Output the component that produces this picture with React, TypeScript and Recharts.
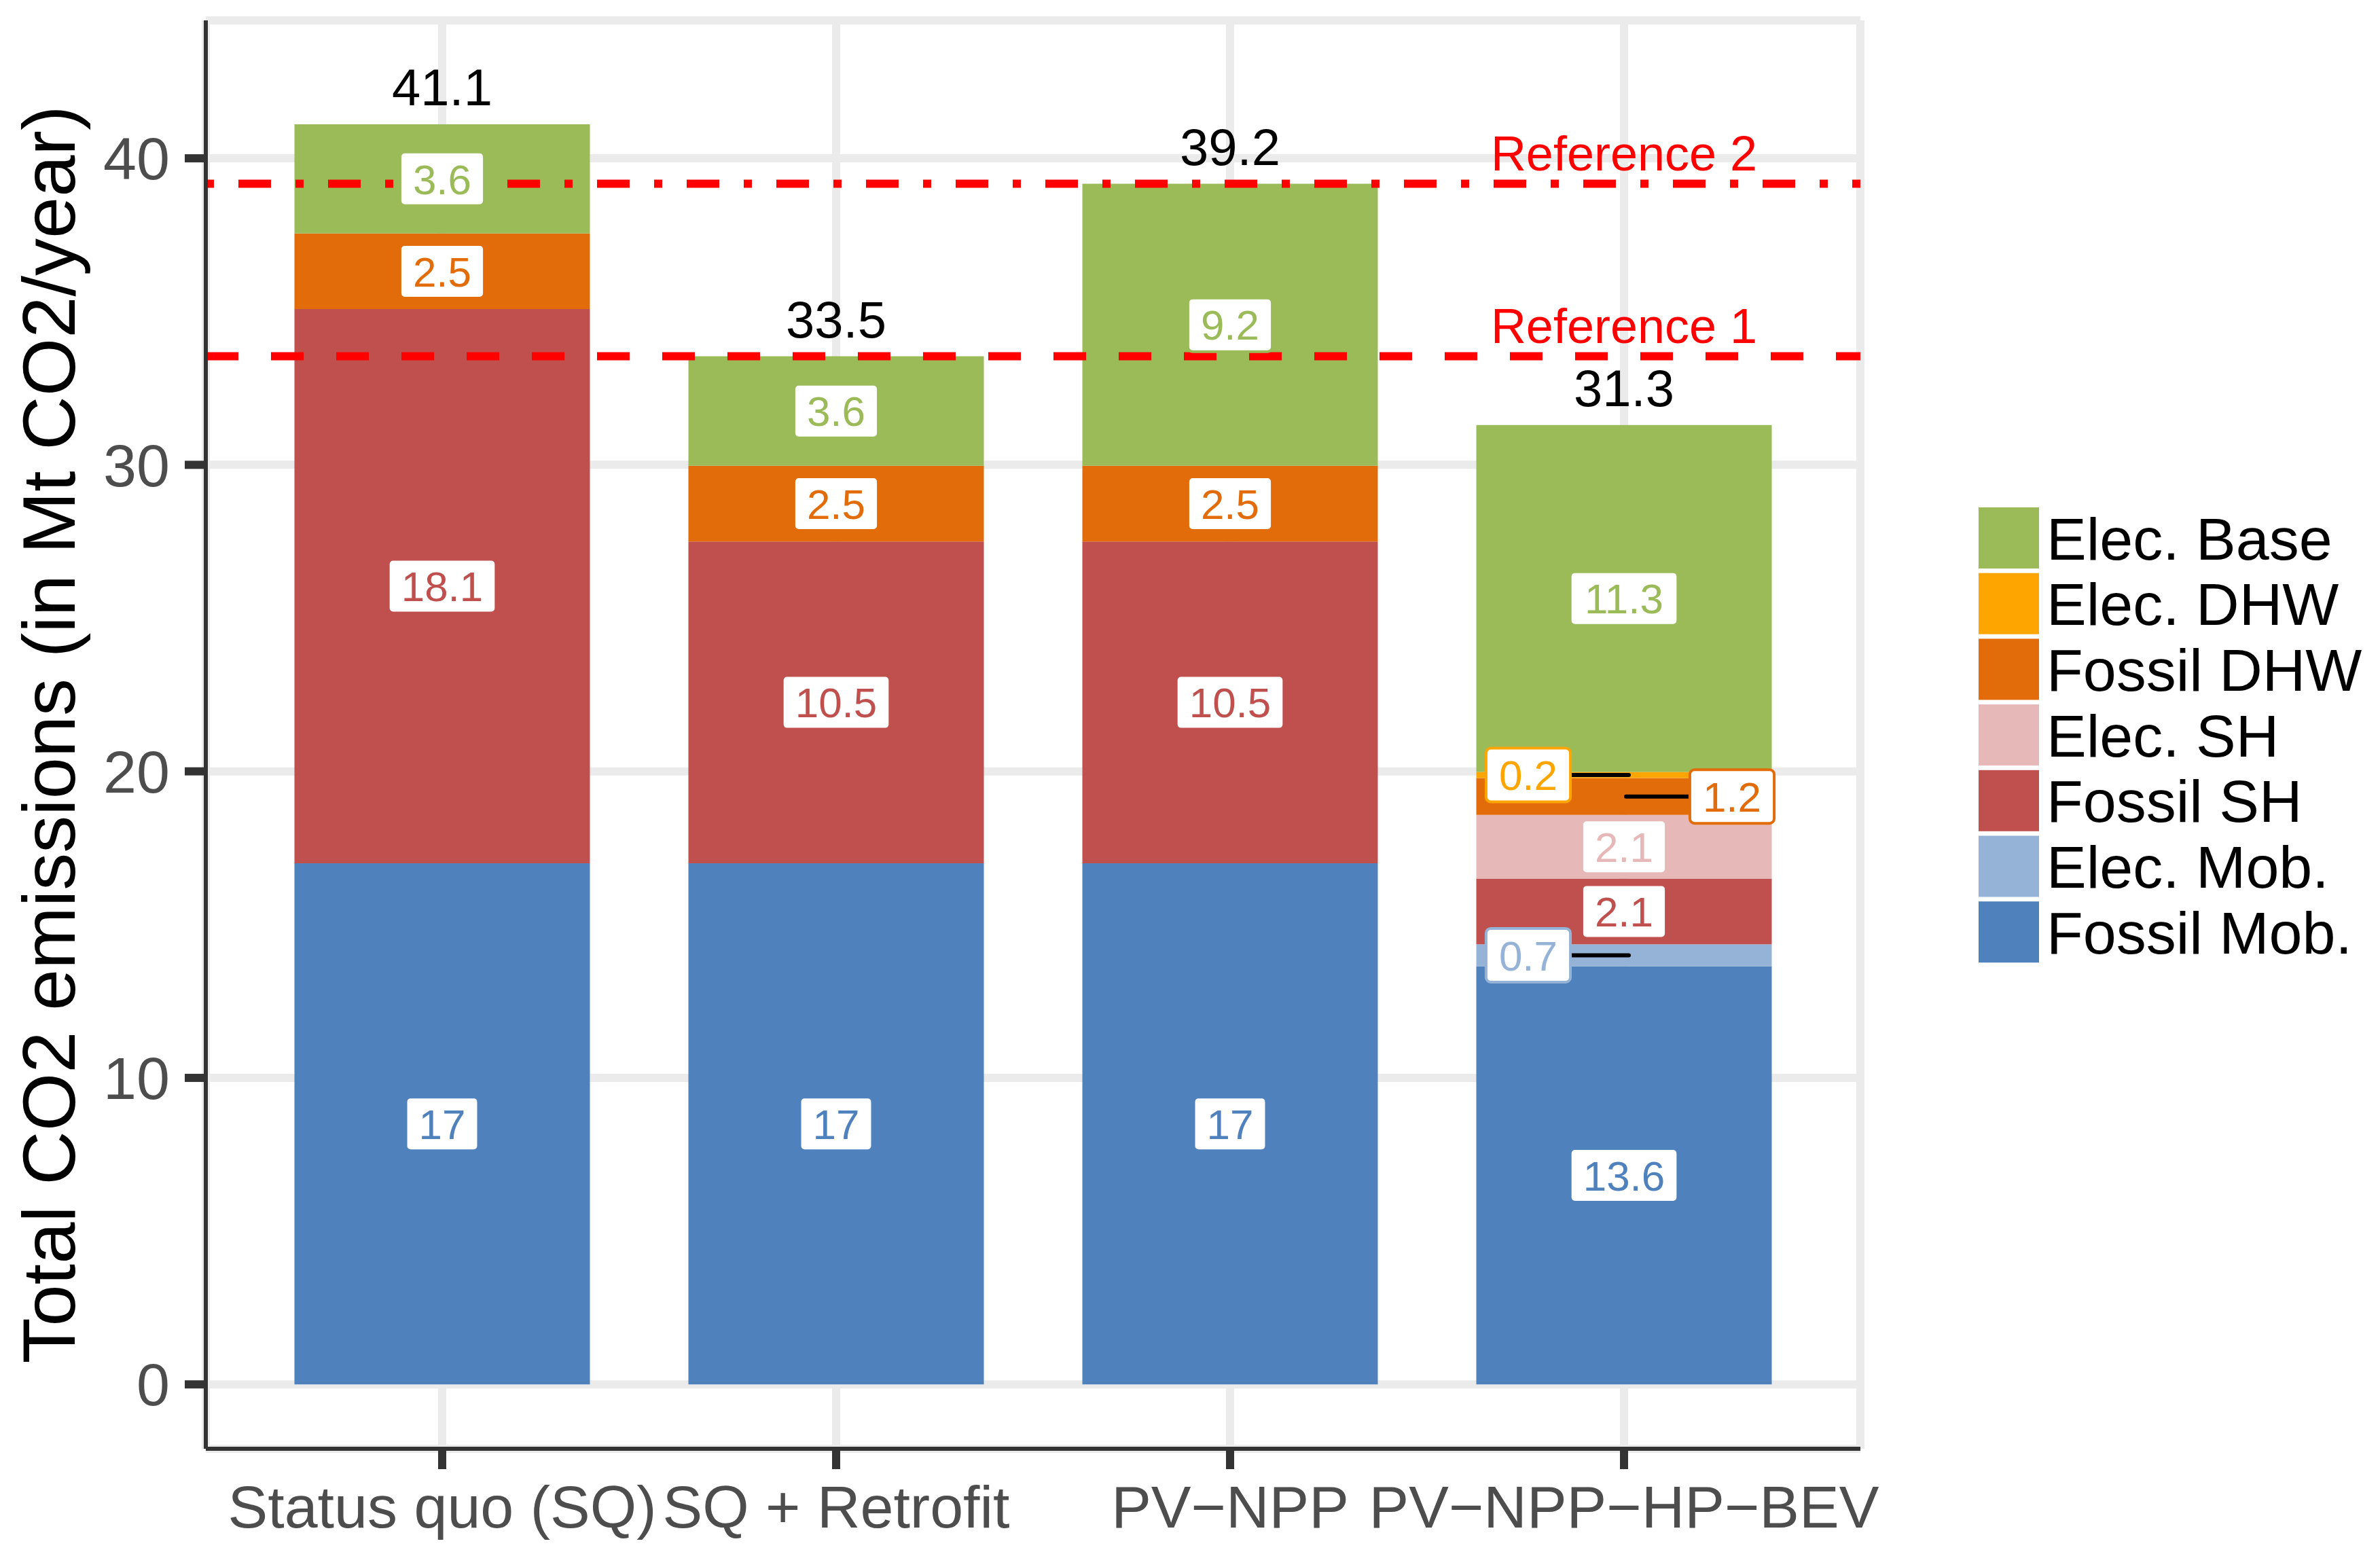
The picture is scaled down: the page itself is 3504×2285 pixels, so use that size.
import {
  BarChart,
  Bar,
  XAxis,
  YAxis,
  CartesianGrid,
  ReferenceLine,
  ReferenceDot,
  LabelList,
  Legend,
  Label,
} from 'recharts';

const FONT = '"Liberation Sans", Arial, Helvetica, sans-serif';

// scenarios on the x axis
const categories = ['Status quo (SQ)', 'SQ + Retrofit', 'PV\u2212NPP', 'PV\u2212NPP\u2212HP\u2212BEV'];

// Mt CO2 / year per end use
const fossilMob = [17.0, 17.0, 17.0, 13.64];
const elecMob = [0, 0, 0, 0.72];
const fossilSH = [18.08, 10.5, 10.5, 2.14];
const elecSH = [0, 0, 0, 2.08];
const fossilDHW = [2.47, 2.47, 2.47, 1.2];
const elecDHW = [0, 0, 0, 0.2];
const elecBase = [3.56, 3.57, 9.2, 11.32];

const referenceNames = ['Reference 1', 'Reference 2'];
const referenceLevels = [33.54, 39.17];

const yTicks = [0, 10, 20, 30, 40];
const yMinorTicks = [5, 15, 25, 35];
const yDomain = [-2.1, 44.5];

// stacking order, bottom to top
const series = [
  { key: 'fossilMob', name: 'Fossil Mob.', values: fossilMob, color: '#4F81BD', repel: 'left' },
  { key: 'elecMob', name: 'Elec. Mob.', values: elecMob, color: '#95B3D7', repel: 'left' },
  { key: 'fossilSH', name: 'Fossil SH', values: fossilSH, color: '#C0504D', repel: 'right' },
  { key: 'elecSH', name: 'Elec. SH', values: elecSH, color: '#E6B9B8', repel: 'right' },
  { key: 'fossilDHW', name: 'Fossil DHW', values: fossilDHW, color: '#E36C0A', repel: 'right' },
  { key: 'elecDHW', name: 'Elec. DHW', values: elecDHW, color: '#FFA500', repel: 'left' },
  { key: 'elecBase', name: 'Elec. Base', values: elecBase, color: '#9BBB59', repel: 'right' },
];

const data = categories.map((name, i) => {
  const row: Record<string, string | number> = { name };
  series.forEach((s) => {
    row[s.key] = s.values[i];
  });
  return row;
});

const totals = categories.map((_, i) => series.reduce((acc, s) => acc + s.values[i], 0));

const fmt = (v: number) => String(Math.round(v * 10) / 10);

const charW: Record<string, number> = { '.': 0.278 };
const textWidth = (t: string, fs: number) =>
  t.split('').reduce((acc, c) => acc + (charW[c] ?? 0.556), 0) * fs;

function boxOf(props: any) {
  const vb = props.viewBox ?? props;
  return {
    x: Number(vb.x ?? props.x),
    y: Number(vb.y ?? props.y),
    width: Number(vb.width ?? props.width),
    height: Number(vb.height ?? props.height),
  };
}

// the label list may skip empty rects, so look the value up by category
function rawValue(props: any, values: number[]) {
  const name = props.payload?.name;
  if (name !== undefined && categories.indexOf(name) >= 0) return values[categories.indexOf(name)];
  const v = props.value;
  if (Array.isArray(v)) return v[1] - v[0];
  if (typeof v === 'number') return v;
  return values[props.index];
}

function SegmentLabel(props: any) {
  const { s } = props;
  const { x, y, width, height } = boxOf(props);
  const v = rawValue(props, s.values);
  if (!v) return null;
  const text = fmt(v);
  const fs = 62;
  const boxW = textWidth(text, fs) + 38;
  const boxH = 79;
  const barCx = x + width / 2;
  const cy = y + height / 2;
  let cx = barCx;
  let leader = null;
  if (Math.abs(height) < boxH) {
    if (s.repel === 'left') {
      cx = barCx - 141;
      leader = <line x1={cx + boxW / 2} y1={cy} x2={barCx + 7} y2={cy} stroke="#000" strokeWidth={6} strokeLinecap="round" />;
    } else {
      cx = barCx + 159;
      leader = <line x1={barCx + 3} y1={cy} x2={cx - boxW / 2} y2={cy} stroke="#000" strokeWidth={6} strokeLinecap="round" />;
    }
  }
  return (
    <g>
      {leader}
      <rect x={cx - boxW / 2} y={cy - boxH / 2} width={boxW} height={boxH} rx={7} fill="#fff" stroke={s.color} strokeWidth={4} />
      <text x={cx} y={cy} dy="0.36em" textAnchor="middle" fill={s.color} fontSize={fs} fontFamily={FONT}>
        {text}
      </text>
    </g>
  );
}

function TotalLabel(props: any) {
  const { x, y, width, height } = boxOf(props);
  const name = props.payload?.name;
  const i = name !== undefined && categories.indexOf(name) >= 0 ? categories.indexOf(name) : props.index;
  const top = Math.min(y, y + height);
  return (
    <text x={x + width / 2} y={top - 28} textAnchor="middle" fill="#000" fontSize={76} fontFamily={FONT}>
      {fmt(totals[i])}
    </text>
  );
}

function YTitle(props: any) {
  const vb = props.viewBox;
  const x = vb.x + 110;
  const cy = vb.y + vb.height / 2;
  return (
    <text x={x} y={cy} transform={`rotate(-90, ${x}, ${cy})`} textAnchor="middle" fill="#000" fontSize={110} fontFamily={FONT}>
      Total CO2 emissions (in Mt CO2/year)
    </text>
  );
}

const LEGEND_PAD = 20;

function LegendBox() {
  const items = [...series].reverse();
  return (
    <svg width={580} height={730}>
      {items.map((s, i) => (
        <g key={s.key}>
          <rect x={0} y={LEGEND_PAD + i * 96.7} width={89} height={90} fill={s.color} />
          <text x={100} y={LEGEND_PAD + i * 96.7 + 45} dy="0.36em" fontSize={88} fill="#000" fontFamily={FONT}>
            {s.name}
          </text>
        </g>
      ))}
    </svg>
  );
}

const border = { stroke: '#333333', strokeWidth: 6 };

export default function App() {
  return (
    <div style={{ position: 'absolute', left: 0, top: 0, background: '#fff', fontFamily: FONT }}>
      <BarChart
        width={3504}
        height={2285}
        data={data}
        margin={{ top: 30, right: 765, bottom: 0, left: 0 }}
        barCategoryGap="12.5%"
      >
        <CartesianGrid yAxisId="minor" vertical={false} stroke="#EBEBEB" strokeWidth={6} />
        <CartesianGrid stroke="#EBEBEB" strokeWidth={12} />
        <XAxis
          dataKey="name"
          interval={0}
          height={152}
          padding={{ left: 58, right: 58 }}
          tickSize={30}
          tickMargin={24}
          tick={{ fill: '#4D4D4D', fontSize: 88, fontFamily: FONT }}
          tickLine={{ stroke: '#333333', strokeWidth: 12 }}
          axisLine={border}
        />
        <XAxis
          xAxisId="top"
          orientation="top"
          dataKey="name"
          height={0}
          padding={{ left: 58, right: 58 }}
          tick={false}
          tickLine={false}
          axisLine={border}
        />
        <YAxis
          width={303}
          domain={yDomain}
          ticks={yTicks}
          interval={0}
          tickSize={31}
          tickMargin={22}
          tick={{ fill: '#4D4D4D', fontSize: 88, fontFamily: FONT }}
          tickLine={{ stroke: '#333333', strokeWidth: 12 }}
          axisLine={border}
          label={<Label content={YTitle} />}
        />
        <YAxis yAxisId="right" orientation="right" width={0} domain={yDomain} ticks={yTicks} tick={false} tickLine={false} axisLine={border} />
        <YAxis yAxisId="minor" hide domain={yDomain} ticks={yMinorTicks} interval={0} />

        {series.map((s) => (
          <Bar key={s.key} dataKey={s.key} name={s.name} stackId="emissions" fill={s.color} isAnimationActive={false} />
        ))}

        <ReferenceLine y={referenceLevels[0]} stroke="#FF0000" strokeWidth={12} strokeDasharray="48 48" />
        <ReferenceLine y={referenceLevels[1]} stroke="#FF0000" strokeWidth={12} strokeDasharray="12 36 48 36" />
        {referenceLevels.map((lvl, i) => (
          <ReferenceDot
            key={referenceNames[i]}
            x={categories[3]}
            y={lvl}
            r={0}
            fill="none"
            stroke="none"
            label={{ value: referenceNames[i], position: 'top', offset: 20, fill: '#FF0000', fontSize: 72, fontFamily: FONT }}
          />
        ))}

        {series.map((s, si) => (
          <Bar
            key={`lbl-${s.key}`}
            xAxisId="top"
            dataKey={s.key}
            stackId="labels"
            fill="none"
            legendType="none"
            isAnimationActive={false}
          >
            <LabelList dataKey={s.key} content={(p: any) => <SegmentLabel {...p} s={s} />} />
            {si === series.length - 1 && <LabelList dataKey={s.key} content={(p: any) => <TotalLabel {...p} />} />}
          </Bar>
        ))}

        <Legend
          layout="horizontal"
          verticalAlign="middle"
          align="center"
          width={580}
          height={730}
          wrapperStyle={{ left: 2913, top: 747 - LEGEND_PAD }}
          content={() => <LegendBox />}
        />
      </BarChart>
    </div>
  );
}
